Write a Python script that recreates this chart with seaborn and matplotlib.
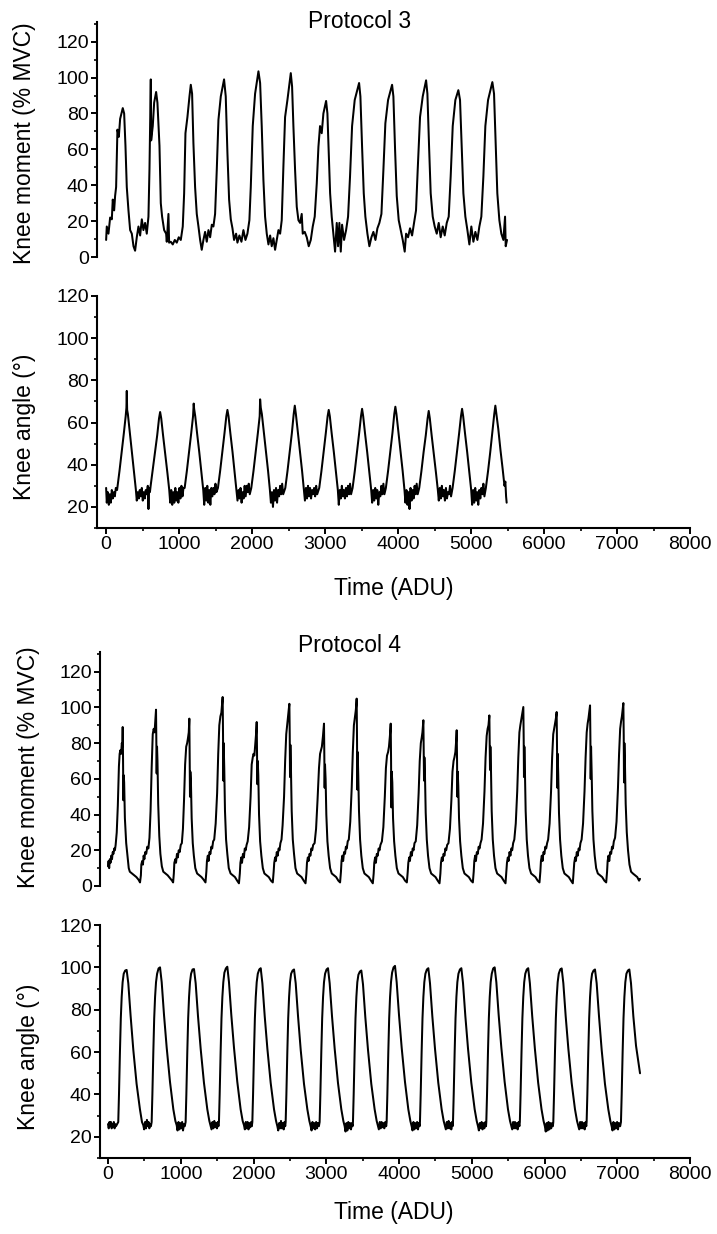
import matplotlib
matplotlib.use("Agg")
import matplotlib.pyplot as plt
from matplotlib.ticker import MultipleLocator
import seaborn as sns

# ---------------- data (time in ADU) ----------------
# Protocol 3, knee moment (% MVC)
p3_moment_t = [
    0, 9, 32, 55, 78, 91, 110, 123, 137, 146, 155, 174, 192, 228, 247, 265, 283, 306, 329, 352, 375, 397, 420, 443, 466, 489, 511, 534, 557, 580,
    594, 612, 617, 639, 658, 685, 703, 731, 749, 767, 795, 822, 831, 854, 863, 886, 913, 941, 968, 995, 1023, 1050,
    1069, 1087, 1114, 1142, 1160, 1178, 1196, 1219, 1242, 1265, 1288, 1310, 1333, 1356, 1379, 1402, 1425, 1448, 1470, 1493,
    1516, 1539, 1571, 1616, 1639, 1662, 1685, 1708, 1731, 1753, 1781, 1799, 1826, 1854, 1881, 1909, 1936, 1963,
    1982, 2009, 2041, 2087, 2110, 2132, 2155, 2178, 2201, 2224, 2247, 2269, 2292, 2315, 2338, 2361, 2384, 2406,
    2429, 2452, 2484, 2530, 2548, 2566, 2589, 2612, 2635, 2658, 2680, 2694, 2721, 2749, 2776, 2804, 2831, 2858,
    2886, 2909, 2931, 2954, 2977, 3014, 3032, 3050, 3069, 3091, 3114, 3137, 3160, 3178, 3196, 3215, 3233, 3260, 3288, 3315,
    3342, 3370, 3406, 3466, 3484, 3507, 3530, 3552, 3580, 3607, 3635, 3662, 3690, 3717, 3744, 3772,
    3799, 3826, 3863, 3918, 3936, 3959, 3982, 4009, 4037, 4064, 4091, 4110, 4137, 4164, 4192, 4219, 4246,
    4269, 4301, 4338, 4384, 4402, 4425, 4447, 4475, 4502, 4530, 4557, 4584, 4612, 4639, 4667, 4694,
    4721, 4749, 4785, 4826, 4849, 4872, 4895, 4922, 4950, 4977, 5004, 5032, 5059, 5087, 5114, 5141,
    5169, 5196, 5233, 5292, 5315, 5338, 5360, 5388, 5415, 5443, 5466, 5475, 5493,
]
p3_moment = [
    9.5, 17, 13, 22, 21, 32, 26, 34, 39, 54, 71, 67, 77, 83, 80, 62, 39, 26, 15, 13, 6, 3.5, 11, 17, 12, 21, 15, 19, 13, 22.5,
    49, 99, 65, 73, 86, 92, 86, 62, 30, 22.5, 15, 13, 8.5, 24, 8, 8.5, 7, 9.5, 8, 11, 9.5, 17,
    35.5, 69, 78, 89.5, 96, 91, 63.5, 39, 24, 17, 9.5, 4, 9.5, 14, 8.5, 15, 11, 18, 17, 24,
    48.5, 76.5, 89.5, 99, 89.5, 58, 32, 21, 16, 9.5, 13, 8, 12, 8.5, 15, 9.5, 13, 20.5,
    39, 73, 91, 103.5, 97, 73, 43, 22.5, 13, 7, 12, 6, 10.5, 4, 9.5, 15, 13, 20.5,
    50.5, 78, 87.5, 102.5, 95, 73, 48.5, 28, 20.5, 19, 24, 13, 14, 11, 6, 9.5, 17, 22.5,
    41, 61.5, 73, 69, 80, 87, 80, 58, 35.5, 22.5, 13, 3, 19, 6, 19, 3, 18, 9.5, 15, 22.5,
    45, 73, 87.5, 97, 89.5, 61.5, 35.5, 22.5, 13, 6, 11, 14, 9.5, 16, 19, 24,
    48.5, 74.5, 87.5, 96, 89.5, 60, 34, 20.5, 15, 9.5, 3, 13, 11, 16, 12, 19, 26,
    48.5, 78, 89.5, 98.5, 91, 61.5, 35.5, 22.5, 17, 13, 19, 11, 17, 12, 19, 22.5,
    45, 73, 87.5, 93, 87.5, 61.5, 35.5, 22.5, 15, 7, 17, 8.5, 14, 9.5, 17, 22.5,
    45, 73, 87.5, 97.5, 91, 63.5, 35.5, 20.5, 13, 9.5, 22.5, 6, 9.5,
]

# Protocol 3, knee angle (deg)
p3_angle_t = [
    0, 9, 23, 37, 50, 64, 78, 91, 105, 119, 133, 150,
    183, 213, 243, 268, 278, 283, 288, 298, 323, 353, 383, 408,
    420, 434, 448, 461, 475, 489, 502, 516, 530, 543, 557, 571, 580, 589, 600, 610,
    640, 670, 700, 725, 740, 755, 780, 810, 840, 865,
    878, 892, 906, 920, 934, 948, 962, 976, 990, 1004, 1018, 1032, 1046, 1060, 1076,
    1106, 1136, 1166, 1191, 1200, 1206, 1221, 1246, 1276, 1306, 1331,
    1344, 1358, 1372, 1386, 1400, 1414, 1428, 1442, 1456, 1470, 1484, 1498, 1512, 1532,
    1562, 1592, 1622, 1647, 1662, 1677, 1702, 1732, 1762, 1787,
    1800, 1814, 1828, 1842, 1856, 1870, 1884, 1898, 1912, 1926, 1940, 1954, 1968, 1989,
    2019, 2049, 2079, 2104, 2110, 2119, 2134, 2159, 2189, 2219, 2244,
    2258, 2272, 2286, 2300, 2314, 2328, 2342, 2356, 2370, 2384, 2398, 2412, 2426, 2455,
    2485, 2515, 2545, 2570, 2585, 2600, 2625, 2655, 2685, 2710,
    2724, 2738, 2752, 2766, 2780, 2794, 2808, 2822, 2836, 2850, 2864, 2878, 2892, 2920,
    2950, 2980, 3010, 3035, 3050, 3065, 3090, 3120, 3150, 3175,
    3188, 3202, 3216, 3230, 3244, 3258, 3272, 3286, 3300, 3314, 3328, 3342, 3356, 3377,
    3407, 3437, 3467, 3492, 3507, 3522, 3547, 3577, 3607, 3632,
    3645, 3659, 3673, 3687, 3701, 3715, 3729, 3743, 3757, 3771, 3785, 3799, 3813, 3833,
    3863, 3893, 3923, 3948, 3963, 3978, 4003, 4033, 4063, 4088,
    4101, 4115, 4129, 4143, 4157, 4171, 4185, 4199, 4213, 4227, 4241, 4255, 4269, 4290,
    4320, 4350, 4380, 4405, 4420, 4435, 4460, 4490, 4520, 4545,
    4558, 4572, 4586, 4600, 4614, 4628, 4642, 4656, 4670, 4684, 4698, 4712, 4726, 4747,
    4777, 4807, 4837, 4862, 4877, 4892, 4917, 4947, 4977, 5002,
    5015, 5029, 5043, 5057, 5071, 5085, 5099, 5113, 5127, 5141, 5155, 5169, 5183, 5203,
    5233, 5263, 5293, 5318, 5333, 5348, 5373, 5403, 5433, 5458, 5470, 5480, 5488,
]
p3_angle = [
    29, 22, 27, 21, 26, 22, 28, 24, 27, 25, 29, 28,
    37, 46, 55, 63, 67, 75, 66, 64, 56, 46, 36, 28,
    23, 27, 24, 28, 25, 29, 23, 27, 24, 28, 26, 30, 19, 29, 27, 30,
    38, 46, 54, 62, 65, 62, 54, 45, 36, 28,
    22, 28, 21, 27, 22, 29, 23, 27, 22, 29, 24, 30, 25, 29, 29,
    37, 46, 55, 63, 69, 66.5, 63, 55, 46, 36, 28,
    21, 29, 23, 30, 22, 28, 21, 29, 25, 29, 26, 31, 27, 29,
    37, 46, 55, 63, 66, 63, 55, 46, 36, 28,
    23, 28, 24, 29, 22, 27, 24, 30, 25, 30, 27, 31, 26, 29,
    37, 46, 55, 63, 71, 67, 64, 56, 46, 37, 28,
    22, 27, 20, 28, 23, 29, 22, 28, 25, 30, 26, 31, 26, 29,
    37, 46, 55, 64, 68, 64, 56, 46, 37, 28,
    23, 29, 24, 30, 25, 29, 24, 28, 26, 29, 25, 30, 26, 29,
    37, 46, 55, 63, 66, 63, 55, 46, 36, 28,
    21, 28, 24, 30, 25, 28, 24, 29, 25, 30, 26, 31, 26, 29,
    37, 46, 55, 63, 66.5, 63, 55, 46, 36, 28,
    22, 28, 23, 29, 24, 28, 21, 27, 25, 30, 26, 31, 26, 29,
    37, 46, 55, 64, 67.5, 64, 56, 46, 37, 28,
    22, 28, 21, 27, 19, 29, 23, 28, 24, 30, 26, 31, 26, 29,
    37, 46, 54, 62, 65.5, 62, 54, 45, 36, 28,
    23, 29, 24, 30, 25, 28, 23, 29, 24, 27, 26, 30, 25, 29,
    37, 46, 55, 63, 66.5, 63, 55, 46, 36, 28,
    21, 28, 22, 29, 23, 27, 21, 28, 24, 29, 26, 31, 25, 29,
    37, 46, 56, 64, 68, 64, 57, 47, 38, 30, 32, 25, 22,
]

# Protocol 4, knee moment (% MVC)
p4_moment_t = [
    0, 8, 16, 25, 35, 45, 55, 65, 75, 85, 95, 105, 120, 135, 150, 160, 170, 180, 190, 197, 202, 207, 211, 216, 222, 232, 250, 265, 285, 300, 330, 360, 390, 420, 440,
    452, 458, 470, 480, 490, 500, 512, 525, 540, 555, 570, 585, 600, 615, 628, 640, 650, 660, 665, 669, 674, 680, 690, 705, 720, 740, 760, 790, 820, 850, 880, 895,
    905, 912, 925, 935, 948, 960, 972, 985, 1000, 1015, 1030, 1045, 1060, 1075, 1088, 1100, 1110, 1118, 1123, 1127, 1132, 1140, 1150, 1165, 1180, 1200, 1225, 1255, 1285, 1315, 1340,
    1352, 1360, 1372, 1382, 1395, 1408, 1420, 1432, 1445, 1460, 1480, 1500, 1515, 1530, 1545, 1558, 1568, 1576, 1581, 1585, 1590, 1598, 1608, 1623, 1640, 1660, 1685, 1715, 1745, 1775, 1800,
    1812, 1820, 1832, 1842, 1855, 1868, 1880, 1892, 1905, 1920, 1940, 1960, 1975, 1990, 2000, 2012, 2025, 2035, 2044, 2049, 2053, 2058, 2066, 2076, 2091, 2108, 2128, 2150, 2180, 2210, 2240, 2265,
    2277, 2285, 2297, 2307, 2320, 2333, 2345, 2357, 2370, 2385, 2400, 2420, 2435, 2450, 2462, 2475, 2485, 2493, 2498, 2502, 2507, 2515, 2525, 2540, 2557, 2577, 2600, 2630, 2660, 2690, 2715,
    2727, 2735, 2747, 2757, 2770, 2783, 2795, 2807, 2820, 2840, 2860, 2880, 2900, 2915, 2928, 2940, 2955, 2969, 2974, 2978, 2983, 2991, 3001, 3016, 3033, 3053, 3076, 3106, 3136, 3166, 3190,
    3202, 3210, 3222, 3232, 3245, 3258, 3270, 3282, 3295, 3310, 3330, 3350, 3365, 3380, 3393, 3405, 3412, 3418, 3423, 3427, 3432, 3440, 3450, 3465, 3482, 3502, 3525, 3555, 3585, 3615, 3640,
    3652, 3660, 3672, 3682, 3695, 3708, 3720, 3732, 3745, 3765, 3785, 3805, 3820, 3835, 3850, 3862, 3875, 3886, 3891, 3895, 3900, 3908, 3918, 3933, 3950, 3970, 3993, 4023, 4053, 4083, 4108,
    4120, 4128, 4140, 4150, 4163, 4176, 4188, 4200, 4213, 4230, 4250, 4270, 4285, 4300, 4312, 4322, 4335, 4340, 4344, 4349, 4357, 4367, 4382, 4399, 4419, 4442, 4472, 4502, 4532, 4557,
    4569, 4577, 4589, 4599, 4612, 4625, 4637, 4649, 4662, 4680, 4700, 4720, 4735, 4750, 4762, 4775, 4785, 4793, 4798, 4802, 4807, 4815, 4825, 4840, 4857, 4877, 4900, 4930, 4960, 4990, 5015,
    5027, 5035, 5047, 5057, 5070, 5083, 5095, 5107, 5120, 5135, 5155, 5175, 5190, 5205, 5218, 5230, 5242, 5247, 5251, 5256, 5264, 5274, 5289, 5306, 5326, 5349, 5379, 5409, 5439, 5464,
    5476, 5484, 5496, 5506, 5519, 5532, 5544, 5556, 5569, 5585, 5605, 5625, 5640, 5655, 5668, 5680, 5695, 5709, 5714, 5718, 5723, 5731, 5741, 5756, 5773, 5793, 5816, 5846, 5876, 5906, 5931,
    5943, 5951, 5963, 5973, 5986, 5999, 6011, 6023, 6036, 6050, 6070, 6090, 6105, 6120, 6133, 6145, 6157, 6167, 6172, 6176, 6181, 6189, 6199, 6214, 6231, 6251, 6274, 6304, 6334, 6364, 6389,
    6401, 6409, 6421, 6431, 6444, 6457, 6469, 6481, 6494, 6510, 6530, 6550, 6565, 6580, 6593, 6605, 6616, 6626, 6631, 6635, 6640, 6648, 6658, 6673, 6690, 6710, 6733, 6763, 6793, 6823, 6848,
    6860, 6868, 6880, 6890, 6903, 6916, 6928, 6940, 6953, 6970, 6990, 7010, 7025, 7040, 7052, 7064, 7075, 7084, 7089, 7093, 7098, 7106, 7116, 7131, 7148, 7168, 7190, 7215, 7245, 7275, 7300, 7313,
]
p4_moment = [
    11, 14, 10, 15, 13, 17, 15, 19, 18, 21, 20, 23, 30, 45, 67, 74, 76, 74, 80, 78, 89, 70, 48, 62, 58, 38, 24, 18, 10, 8, 7, 6, 5, 3.5, 2,
    6, 12, 14, 12, 17, 15, 19, 18, 22, 21, 27, 42, 66, 85, 88, 86, 92, 98.7, 80, 63, 78, 70, 46, 28, 18, 11, 8, 7, 6, 4.5, 3, 2,
    7, 13, 15, 13, 18, 16, 20, 19, 23, 24, 32, 48, 68, 78, 80, 83, 86, 93.7, 72, 50, 64, 58, 38, 24, 17, 10, 7, 6, 5, 3.5, 2,
    8, 14, 17, 14, 19, 18, 22, 21, 25, 26, 35, 52, 74, 90, 95, 97, 102, 105.8, 85, 59, 80, 66, 42, 26, 18, 10, 7, 6, 5, 3, 1.5,
    7, 13, 16, 13, 18, 16, 21, 20, 23, 25, 33, 50, 68, 72, 74, 73, 80, 85, 91.8, 75, 57, 70, 62, 40, 25, 17, 10, 7, 6, 5, 3, 2,
    8, 13, 16, 14, 19, 17, 21, 20, 24, 26, 34, 50, 70, 85, 90, 95, 99, 102, 84, 61, 79, 65, 42, 26, 18, 10, 7, 6, 5, 3, 1.5,
    7, 13, 16, 14, 18, 17, 21, 20, 23, 24, 32, 48, 66, 74, 76, 78, 84, 90.9, 72, 55, 68, 60, 40, 25, 17, 10, 7, 6, 5, 3, 2,
    8, 14, 17, 14, 19, 18, 22, 21, 25, 26, 36, 55, 75, 90, 94, 98, 101, 104.9, 82, 54, 75, 62, 42, 26, 17, 10, 7, 6, 5, 3, 1.5,
    7, 13, 16, 13, 18, 17, 21, 20, 23, 25, 33, 50, 66, 73, 75, 78, 84, 90.9, 70, 44, 64, 58, 38, 25, 17, 10, 7, 6, 5, 3, 2,
    8, 13, 16, 14, 19, 17, 21, 20, 24, 25, 34, 52, 70, 80, 83, 86, 92.8, 76, 59, 72, 62, 41, 26, 17, 10, 7, 6, 5, 3, 1.5,
    7, 13, 16, 14, 18, 17, 21, 20, 23, 24, 32, 48, 64, 70, 72, 75, 81, 87.2, 70, 50, 64, 56, 38, 25, 17, 10, 7, 6, 5, 3, 2,
    8, 14, 17, 14, 19, 18, 22, 21, 24, 26, 35, 53, 72, 84, 88, 90, 95.5, 80, 65, 78, 66, 42, 26, 17, 10, 7, 6, 5, 3, 1.5,
    8, 13, 16, 14, 19, 17, 21, 20, 24, 26, 35, 53, 72, 86, 90, 93, 97, 100.2, 82, 61, 78, 64, 42, 26, 17, 10, 7, 6, 5, 3, 2,
    8, 14, 17, 14, 19, 18, 22, 21, 24, 26, 35, 53, 72, 85, 88, 91, 94, 97.4, 78, 55, 74, 62, 41, 26, 17, 10, 7, 6, 5, 3, 1.5,
    8, 13, 16, 14, 19, 17, 21, 20, 24, 26, 35, 53, 72, 86, 91, 94, 98, 101.1, 82, 60, 78, 64, 42, 26, 17, 10, 7, 6, 5, 3, 2,
    8, 14, 17, 14, 19, 18, 22, 21, 25, 27, 36, 55, 74, 88, 92, 95, 99, 102.4, 84, 58, 80, 68, 46, 30, 20, 12, 8, 7, 6, 5, 3, 4,
]

# Protocol 4, knee angle (deg)
p4_angle_t = [
    0, 10, 20, 30, 40, 50, 60, 70, 80, 90, 100, 110, 125,
    141, 151, 164, 176, 188, 201, 216, 236, 256, 279, 311, 348, 393, 439, 467, 485, 497, 510, 522, 535, 547, 558, 568, 579, 590,
    600, 610, 623, 635, 647, 660, 675, 695, 715, 738, 770, 807, 852, 898, 926, 944, 956, 969, 981, 994, 1006, 1019, 1031, 1044, 1055,
    1067, 1077, 1090, 1102, 1114, 1127, 1142, 1162, 1182, 1205, 1237, 1274, 1319, 1365, 1393, 1411, 1423, 1436, 1448, 1461, 1473, 1486, 1498, 1509, 1518,
    1525, 1535, 1548, 1560, 1572, 1585, 1600, 1620, 1640, 1663, 1695, 1732, 1777, 1823, 1851, 1869, 1881, 1894, 1906, 1919, 1931, 1944, 1956, 1967, 1977,
    1984, 1994, 2007, 2019, 2031, 2044, 2059, 2079, 2099, 2122, 2154, 2191, 2236, 2282, 2310, 2328, 2340, 2353, 2365, 2378, 2390, 2403, 2415, 2426, 2436,
    2442, 2452, 2465, 2477, 2489, 2502, 2517, 2537, 2557, 2580, 2612, 2649, 2694, 2740, 2768, 2786, 2798, 2811, 2823, 2836, 2848, 2861, 2873, 2886, 2899,
    2909, 2919, 2932, 2944, 2956, 2969, 2984, 3004, 3024, 3047, 3079, 3116, 3161, 3207, 3235, 3253, 3265, 3278, 3290, 3303, 3315, 3328, 3340, 3353, 3362,
    3367, 3377, 3390, 3402, 3414, 3427, 3442, 3462, 3482, 3505, 3537, 3574, 3619, 3665, 3693, 3711, 3723, 3736, 3748, 3761, 3773, 3786, 3798, 3811, 3824,
    3830, 3840, 3853, 3865, 3877, 3890, 3905, 3925, 3945, 3968, 4000, 4037, 4082, 4128, 4156, 4174, 4186, 4199, 4211, 4224, 4236, 4249, 4261, 4274, 4284,
    4288, 4298, 4311, 4323, 4335, 4348, 4363, 4383, 4403, 4426, 4458, 4495, 4540, 4586, 4614, 4632, 4644, 4657, 4669, 4682, 4694, 4707, 4719, 4728, 4737,
    4742, 4752, 4765, 4777, 4789, 4802, 4817, 4837, 4857, 4880, 4912, 4949, 4994, 5040, 5068, 5086, 5098, 5111, 5123, 5136, 5148, 5161, 5173, 5186, 5196,
    5200, 5210, 5223, 5235, 5247, 5260, 5275, 5295, 5315, 5338, 5370, 5407, 5452, 5498, 5526, 5544, 5556, 5569, 5581, 5594, 5606, 5619, 5631, 5644, 5655,
    5661, 5671, 5684, 5696, 5708, 5721, 5736, 5756, 5776, 5799, 5831, 5868, 5913, 5959, 5987, 6005, 6017, 6030, 6042, 6055, 6067, 6080, 6092, 6105, 6115,
    6121, 6131, 6144, 6156, 6168, 6181, 6196, 6216, 6236, 6259, 6291, 6328, 6373, 6419, 6447, 6465, 6477, 6490, 6502, 6515, 6527, 6540, 6552, 6565, 6574,
    6579, 6589, 6602, 6614, 6626, 6639, 6654, 6674, 6694, 6717, 6749, 6786, 6831, 6877, 6905, 6923, 6935, 6948, 6960, 6973, 6985, 6998, 7010, 7023, 7040,
    7051, 7061, 7074, 7086, 7098, 7111, 7126, 7146, 7166, 7189, 7221, 7258, 7313,
]
p4_angle = [
    26, 24, 27, 25, 27, 24, 26, 25, 27, 24, 26, 25, 26,
    27, 40, 60, 76, 86, 93, 97, 98.5, 98.8, 92.5, 77, 61, 45, 33, 27, 25.5, 23.5, 27, 24, 28, 25, 27, 24, 26, 25,
    27, 40, 60, 76, 86, 93, 97, 99.5, 100, 93, 77.5, 62, 46, 33, 27.5, 25.5, 23, 27, 23.5, 26.5, 24, 27, 23, 26, 25,
    27, 40, 60, 76, 86, 93, 97, 99, 99.2, 92.5, 77, 61.5, 45.5, 33, 27.5, 25, 23.5, 27, 24, 27.5, 24.5, 26.5, 24, 27, 25,
    27, 40, 60, 76, 86, 93, 97.5, 99.5, 100.3, 93, 77.5, 62, 46, 33, 27.5, 25.5, 23.5, 27, 24, 27, 23.5, 26.5, 24.5, 27, 25,
    27, 40, 60, 76, 86, 93, 97, 99, 99.6, 92.5, 77, 61.5, 45.5, 33, 27.5, 25, 23, 26.5, 24, 27.5, 24, 26.5, 23.5, 27, 25,
    27, 40, 60, 76, 86, 93, 97, 98.5, 99, 92.5, 77, 61, 45, 33, 27.5, 25, 23, 27, 24, 26.5, 23.5, 27, 24, 26.5, 25,
    27, 40, 60, 76, 86, 93, 97, 99, 99.6, 92.5, 77, 61.5, 45.5, 33, 27.5, 25, 22.5, 26.5, 23, 27, 24, 26.5, 23.5, 26.5, 25,
    27, 40, 60, 76, 86, 93, 96.5, 98, 98.5, 92, 76.5, 61, 45, 33, 27.5, 25, 23.5, 27, 24, 27, 24.5, 26.5, 24, 27, 25,
    27, 40, 60, 76, 86, 93, 97.5, 100, 100.7, 93, 77.5, 62, 46, 33, 27.5, 25, 23, 27, 23.5, 26.5, 24, 27, 23.5, 26.5, 25,
    27, 40, 60, 76, 86, 93, 97, 99, 99.6, 92.5, 77, 61.5, 45.5, 33, 27.5, 25, 23.5, 27, 24, 27.5, 24, 26.5, 23.5, 27, 25,
    27, 40, 60, 76, 86, 93, 97, 99, 99.6, 92.5, 77, 61.5, 45.5, 33, 27.5, 25, 23, 26.5, 24, 27, 23.5, 26.5, 24, 27, 25,
    27, 40, 60, 76, 86, 93, 97, 99.5, 100, 93, 77.5, 62, 46, 33, 27.5, 25, 23.5, 27, 24, 27, 24, 26.5, 23.5, 27, 25,
    27, 40, 60, 76, 86, 93, 97, 99, 99.6, 92.5, 77, 61.5, 45.5, 33, 27.5, 25, 22.5, 26.5, 23, 27, 23.5, 26.5, 24, 26.5, 25,
    27, 40, 60, 76, 86, 93, 97, 99, 99.5, 92.5, 77, 61.5, 45.5, 33, 27.5, 25, 23.5, 27, 24, 27, 24, 26.5, 23.5, 27, 25,
    27, 40, 60, 76, 86, 93, 97, 98.5, 99, 92.5, 77, 61, 45, 33, 27.5, 25, 23, 27, 23.5, 26.5, 24, 27, 23.5, 26.5, 25,
    27, 40, 60, 76, 86, 93, 97, 98.5, 99, 92.5, 77, 63, 50,
]

titles = ["Protocol 3", "Protocol 4"]
moment_label = "Knee moment (% MVC)"
angle_label = "Knee angle (\u00b0)"
time_label = "Time (ADU)"

assert len(p3_moment_t) == len(p3_moment)
assert len(p3_angle_t) == len(p3_angle)
assert len(p4_moment_t) == len(p4_moment)
assert len(p4_angle_t) == len(p4_angle)

# ---------------- style ----------------
sns.set_style("ticks")
plt.rcParams['font.family'] = ['Liberation Sans', 'DejaVu Sans']
plt.rcParams['axes.linewidth'] = 1.5
plt.rcParams['text.color'] = 'black'
plt.rcParams['axes.labelcolor'] = 'black'
plt.rcParams['xtick.color'] = 'black'
plt.rcParams['ytick.color'] = 'black'
plt.rcParams['axes.edgecolor'] = 'black'

W, H = 717, 1234
fig = plt.figure(figsize=(W / 100, H / 100), dpi=100)


def panel(rect, t, v, ylim, ylabel, label_y, show_x, xmin):
    ax = fig.add_axes(rect)
    sns.lineplot(x=t, y=v, ax=ax, color='black', linewidth=1.45,
                 estimator=None, sort=False)
    ax.set_xlim(xmin, 8000)
    ax.set_ylim(*ylim)
    ax.yaxis.set_major_locator(MultipleLocator(20))
    ax.yaxis.set_minor_locator(MultipleLocator(10))
    ax.xaxis.set_major_locator(MultipleLocator(1000))
    ax.xaxis.set_minor_locator(MultipleLocator(500))
    ax.tick_params(which='major', direction='out', length=4, width=1.4,
                   labelsize=14, pad=2, color='black', labelcolor='black')
    ax.tick_params(which='minor', direction='out', length=2.2, width=1.2, color='black')
    sns.despine(ax=ax, bottom=not show_x)
    if not show_x:
        ax.tick_params(axis='x', which='both', bottom=False, labelbottom=False)
    ax.set_xlabel("")
    ax.set_ylabel(ylabel, fontsize=16.5, va='center', color='black')
    ax.yaxis.set_label_coords(-0.122, label_y)
    return ax


def fr(px_l, px_top, px_r, px_bot):
    return [px_l / W, 1 - px_bot / H, (px_r - px_l) / W, (px_bot - px_top) / H]


panel(fr(97, 22, 690, 257), p3_moment_t, p3_moment, (0, 131), moment_label, 0.485, False, -125)
panel(fr(97, 296, 690, 528), p3_angle_t, p3_angle, (10, 120), angle_label, 0.435, True, -125)
panel(fr(100, 652, 690, 886), p4_moment_t, p4_moment, (0, 131), moment_label, 0.509, False, -110)
panel(fr(100, 925, 690, 1158), p4_angle_t, p4_angle, (10, 120), angle_label, 0.433, True, -110)

fig.text(360 / W, 1 - 21 / H, titles[0], fontsize=16.5, ha='center', va='center')
fig.text(350 / W, 1 - 645 / H, titles[1], fontsize=16.5, ha='center', va='center')
fig.text(394 / W, 1 - 588 / H, time_label, fontsize=16.5, ha='center', va='center')
fig.text(394 / W, 1 - 1213 / H, time_label, fontsize=16.5, ha='center', va='center')

fig.savefig("out.png", dpi=100, facecolor='white')
